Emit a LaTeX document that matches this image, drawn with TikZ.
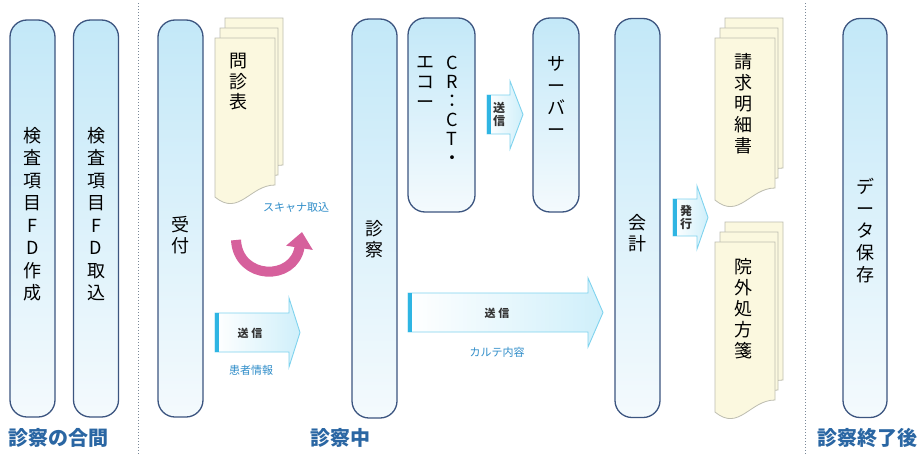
\documentclass[tikz,border=0pt]{standalone}
\usepackage{fontspec}
\setmainfont{Noto Sans CJK JP}
\usetikzlibrary{arrows.meta,calc}
\definecolor{pillborder}{HTML}{3C5580}
\definecolor{pilltop}{HTML}{C3E8F8}
\definecolor{pillbot}{HTML}{F4FAFD}
\definecolor{docfill}{HTML}{FBF8DF}
\definecolor{docline}{HTML}{BDBDB0}
\definecolor{arrline}{HTML}{7FD3EE}
\definecolor{arrbar}{HTML}{2FB5E3}
\definecolor{arrtip}{HTML}{CFEFFA}
\definecolor{bluetext}{HTML}{2F8DC9}
\definecolor{headtext}{HTML}{2A66A3}
\definecolor{pinkarr}{HTML}{D6609C}
\definecolor{sepline}{HTML}{7A8898}
\tikzset{
  pill/.style={draw=pillborder, line width=1.3pt, rounded corners=17pt,
    top color=pilltop, bottom color=pillbot, inner sep=0pt},
  vtext/.style={anchor=north, align=center, inner sep=0pt, text=black,
    font=\fontsize{18}{21}\selectfont},
  docsheet/.style={fill=docfill, draw=docline, line width=0.8pt},
  arrowbody/.style={draw=arrline, line width=0.9pt, left color=white, middle color=white, right color=arrtip},
  arrowbar/.style={fill=arrbar},
  smalllabel/.style={font=\fontsize{11}{13}\selectfont, text=bluetext, inner sep=0pt},
  arrowlabel/.style={font=\bfseries\fontsize{11}{13}\selectfont, text=black!80, inner sep=0pt, align=center},
  section/.style={font=\bfseries\fontsize{20}{22}\selectfont, text=headtext, anchor=west, inner sep=0pt},
  sep/.style={draw=sepline, line width=1pt, dotted}
}
\newcommand\docpage[4]{%
  \filldraw[docsheet] (#1,#2) -- ({#1+#3},#2) -- ({#1+#3},{#2+#4})
    .. controls ({#1+#3-25},{#2+#4}) and ({#1+#3*0.4},{#2+#4+32}) .. (#1,{#2+#4+12}) -- cycle;}
\newcommand\blkarrow[7]{%
  \path[arrowbody] (#1,#3) -- (#2,#3) -- (#2,#6) -- (#5,{(#3+#4)/2}) -- (#2,#7)
    -- (#2,#4) -- (#1,#4) -- cycle;
  \fill[arrowbar] (#1,#3) rectangle ({#1+4},#4);}
\begin{document}
\begin{tikzpicture}[x=1pt,y=-1pt]
\useasboundingbox[fill=white] (0,0) rectangle (921,455);
% separators
\coordinate (s1a) at (138,3); \coordinate (s1b) at (138,455);
\coordinate (s2a) at (805,3); \coordinate (s2b) at (805,455);
\draw[sep] (s1a) -- (s1b);
\draw[sep] (s2a) -- (s2b);
% pills
\node[pill, minimum width=45pt, minimum height=397pt] (fdmake) at (32.5,218.5) {};
\node[pill, minimum width=45pt, minimum height=397pt] (fdload) at (96,218.5) {};
\node[pill, minimum width=45pt, minimum height=397pt] (uketsuke) at (180.5,218.5) {};
\node[pill, minimum width=45pt, minimum height=399pt] (shinsatsu) at (374.5,218.5) {};
\node[pill, minimum width=67pt, minimum height=194pt] (crct) at (441.5,115) {};
\node[pill, minimum width=46pt, minimum height=194pt] (server) at (556,115) {};
\node[pill, minimum width=45pt, minimum height=399pt] (kaikei) at (637.5,218) {};
\node[pill, minimum width=44pt, minimum height=399pt] (save) at (865,218) {};
% pill texts
\node[vtext, font=\fontsize{18}{22.5}\selectfont] (t1) at (32.5,127) {検\\査\\項\\目\\F\\D\\作\\成};
\node[vtext, font=\fontsize{18}{22.5}\selectfont] (t2) at (96,127) {検\\査\\項\\目\\F\\D\\取\\込};
\node[vtext] (t3) at (180.5,216) {受\\付};
\node[vtext] (t4) at (374.5,220) {診\\察};
\node[vtext, font=\fontsize{18}{19}\selectfont] (t5) at (452,56) {C\\R\\：\\C\\T\\・};
\node[vtext, font=\fontsize{18}{20}\selectfont] (t6) at (425,56) {エ\\コ\\ー};
\node[vtext, font=\fontsize{18}{22}\selectfont] (t7) at (556,56) {サ\\ー\\バ\\ー};
\node[vtext] (t8) at (637.5,214) {会\\計};
\node[vtext, font=\fontsize{18}{22}\selectfont] (t9) at (865,178) {デ\\ー\\タ\\保\\存};
% document stacks
\docpage{225}{18}{58}{147}
\docpage{220}{28}{58}{147}
\docpage{215}{38}{60}{147}
\node[vtext, font=\fontsize{18}{20.5}\selectfont] (monshin) at (238,53) {問\\診\\表};
\docpage{725}{18}{58}{150}
\docpage{720}{28}{58}{150}
\docpage{715}{38}{60}{150}
\node[vtext] (seikyu) at (743,53) {請\\求\\明\\細\\書};
\docpage{725}{222}{58}{158}
\docpage{720}{232}{58}{158}
\docpage{715}{242}{60}{158}
\node[vtext] (ingai) at (743,258) {院\\外\\処\\方\\箋};
% block arrows
\blkarrow{408}{588}{293}{332}{603}{278}{347}
\node[arrowlabel] (soshin1) at (497,313) {送 信};
\node[smalllabel] (karte) at (497,352) {カルテ内容};
\blkarrow{215}{289}{313}{352}{300}{298}{367}
\node[arrowlabel] (soshin2) at (250,333) {送 信};
\node[smalllabel] (kanja) at (251,370) {患者情報};
\blkarrow{487}{510}{95}{134}{523}{81}{149}
\node[arrowlabel, font=\bfseries\fontsize{12}{13}\selectfont] (soshin3) at (499,114) {送\\信};
\blkarrow{673}{697}{199}{236}{708}{186}{249}
\node[arrowlabel, font=\bfseries\fontsize{12}{13}\selectfont] (hakko) at (686,217) {発\\行};
% scanner arrow
\node[smalllabel] (scan) at (296,208) {スキャナ取込};
\coordinate (sc1) at (236,240);
\coordinate (sc2) at (302,232);
\draw[pinkarr, line width=10pt, -{Triangle[width=26pt,length=16pt]}]
  (sc1) .. controls (238,280) and (294,282) .. (sc2);
% section labels
\node[section] (lab1) at (8,438) {診察の合間};
\node[section] (lab2) at (310,438) {診察中};
\node[section] (lab3) at (817,438) {診察終了後};
\end{tikzpicture}
\end{document}
